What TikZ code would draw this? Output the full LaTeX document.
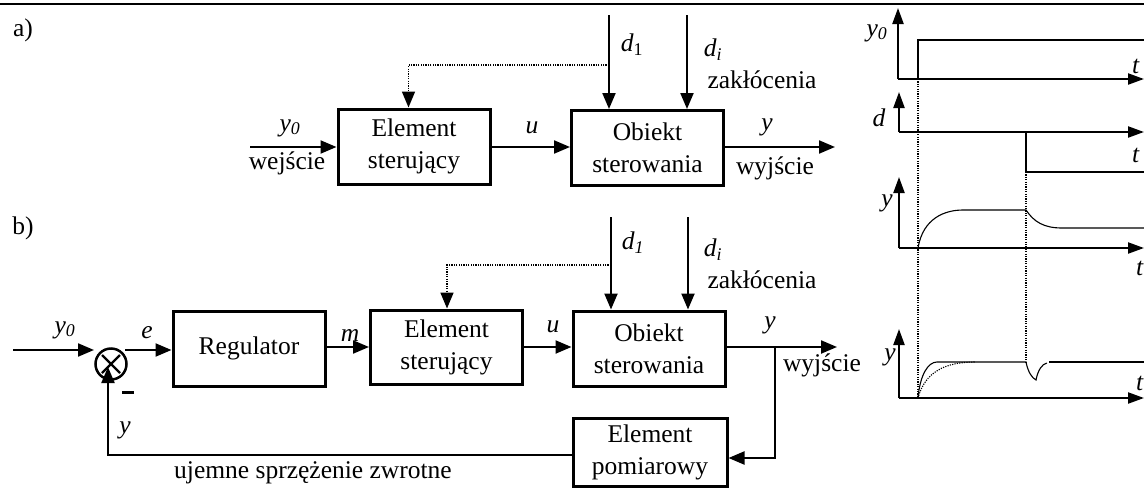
\documentclass[tikz,border=0pt]{standalone}
\usepackage{fontspec}
\setmainfont{Liberation Serif}
\usetikzlibrary{arrows.meta,calc}
\newcommand{\vy}{\textit{y}\textsubscript{\textit{0}}}
\begin{document}
\begin{tikzpicture}[x=1pt,y=-1pt,
  font=\fontsize{25.5}{32}\selectfont,
  blk/.style={draw,line width=3pt,minimum width=152pt,minimum height=75pt,align=center,inner sep=0pt},
  arr/.style={line width=2.2pt,-{Triangle[length=16pt,width=13pt]}},
  ln/.style={line width=2.2pt},
  dots/.style={line width=1.6pt,dash pattern=on 1.2pt off 1.2pt},
  axisarr/.style={line width=2.2pt,-{Triangle[length=16pt,width=11pt]}},
  fine/.style={line width=1.1pt},
  fdots/.style={line width=1.1pt,dash pattern=on 1.2pt off 1.2pt},
  lbl/.style={inner sep=0pt},
]
\useasboundingbox (0,0) rectangle (1144,488);
\draw[ln] (0,4) -- (1144,4);

% ---------- a) ----------
\node[lbl] (la) at (23,30) {a)};
\node[blk] (ESa) at (414,146.5) {Element\\sterujący};
\node[blk] (OBa) at (647.5,148) {Obiekt\\sterowania};
\coordinate (ina) at (250,147);
\coordinate (outa) at (835,147);
\coordinate (d1a) at (609,15);
\coordinate (dia) at (687,15);
\coordinate (tapa) at (609,65);
\draw[arr] (ina) -- (ina -| ESa.west);
\draw[arr] (ESa.east |- ina) -- (OBa.west |- ina);
\draw[arr] (OBa.east |- outa) -- (outa);
\draw[arr] (d1a) -- (d1a |- OBa.north);
\draw[arr] (dia) -- (dia |- OBa.north);
\draw[dots,-{Triangle[length=16pt,width=13pt]}] (tapa) -| ($(ESa.north west)+(72,0)$);
\node[lbl] (y0a) at (290,128) {\vy};
\node[lbl] (wea) at (287,163) {wejście};
\node[lbl] (ua) at (532,128) {\textit{u}};
\node[lbl] (ya) at (767,127) {\textit{y}};
\node[lbl] (wya) at (775,168) {wyjście};
\node[lbl] (d1la) at (632,45) {\textit{d}\textsubscript{1}};
\node[lbl] (dila) at (713,50) {\textit{d}\textsubscript{\textit{i}}};
\node[lbl] (za) at (762,80) {zakłócenia};

% ---------- b) ----------
\node[lbl] (lb) at (23,228) {b)};
\node[draw,circle,line width=2.5pt,minimum size=31pt,inner sep=0pt] (sum) at (111,364) {};
\draw[line width=2.2pt] ($(sum.center)+(-9,-9)$) -- ($(sum.center)+(9,9)$);
\draw[line width=2.2pt] ($(sum.center)+(-9,9)$) -- ($(sum.center)+(9,-9)$);
\node[blk] (Reg) at (249,348.5) {Regulator};
\node[blk,minimum height=74pt] (ESb) at (446.5,347) {Element\\sterujący};
\node[blk] (OBb) at (649,348.5) {Obiekt\\sterowania};
\node[blk,minimum height=68pt,minimum width=154pt] (EP) at (650,452) {Element\\pomiarowy};
\coordinate (inb) at (13,350);
\coordinate (sin) at (94,350);
\coordinate (sout) at (125,350);
\coordinate (outb) at (837,347);
\coordinate (br) at (775,347);
\coordinate (br2) at (775,458);
\coordinate (fb) at (108,455);
\coordinate (fbt) at (108,367);
\coordinate (d1b) at (611,217);
\coordinate (dib) at (688,217);
\coordinate (tapb) at (611,265);
\draw[arr] (inb) -- (sin);
\draw[arr] (sout) -- (sout -| Reg.west);
\draw[arr] (Reg.east |- 0,347) -- (ESb.west |- 0,347);
\draw[arr] (ESb.east |- 0,347) -- (OBb.west |- 0,347);
\draw[arr] (OBb.east |- outb) -- (outb);
\draw[arr] (br) -- (br2) -- (EP.east |- br2);
\draw[arr] (EP.west |- fb) -- (fb) -- (fbt);
\draw[arr] (d1b) -- (d1b |- OBb.north);
\draw[arr] (dib) -- (dib |- OBb.north);
\draw[dots,-{Triangle[length=16pt,width=13pt]}] (tapb) -| ($(ESb.north west)+(78,0)$);
\fill (122,390.5) rectangle (134,393.5);
\node[lbl] (y0b) at (65,330) {\vy};
\node[lbl] (eb) at (147,333) {\textit{e}};
\node[lbl] (mb) at (350,335) {\textit{m}};
\node[lbl] (ub) at (553,327) {\textit{u}};
\node[lbl] (yb) at (770,325) {\textit{y}};
\node[lbl] (wyb) at (822,365) {wyjście};
\node[lbl] (yfb) at (125,430) {\textit{y}};
\node[lbl] (uj) at (313,473) {ujemne sprzężenie zwrotne};
\node[lbl] (d1lb) at (633,243) {\textit{d}\textsubscript{\textit{1}}};
\node[lbl] (dilb) at (713,250) {\textit{d}\textsubscript{\textit{i}}};
\node[lbl] (zb) at (762,280) {zakłócenia};

% ---------- plots ----------
% plot 1
\draw[axisarr] (898,79) -- (898,8);
\draw[axisarr] (898,79) -- (1144,79);
\draw[fine] (918,79) -- (918,40) -- (1144,40);
\node[lbl] (py0) at (877,33) {\vy};
\node[lbl] (pt1) at (1136,66) {\textit{t}};
% plot 2
\draw[axisarr] (899,132) -- (899,92);
\draw[axisarr] (899,132) -- (1144,132);
\draw[fine] (1026,132) -- (1026,172) -- (1144,172);
\node[lbl] (pd) at (879,118) {\textit{d}};
\node[lbl] (pt2) at (1136,155) {\textit{t}};
% plot 3
\draw[axisarr] (899,248) -- (899,177);
\draw[axisarr] (899,248) -- (1144,248);
\draw[fine] (918,248) .. controls (923,218) and (945,210) .. (963,210) -- (1026,210)
  .. controls (1034,222) and (1044,228) .. (1062,228) -- (1144,228);
\node[lbl] (py3) at (887,203) {\textit{y}};
\node[lbl] (pt3) at (1140,268) {\textit{t}};
% plot 4
\draw[axisarr] (899,398) -- (899,329);
\draw[axisarr] (899,398) -- (1144,398);
\draw[fine] (918,398) .. controls (920,375) and (928,362) .. (937,362) -- (1026,362)
  .. controls (1028,372) and (1032,378) .. (1036,380)
  .. controls (1038,370) and (1042,364) .. (1047,363);
\draw[fine] (1049,362) -- (1144,362);
\draw[fdots] (918,398) .. controls (925,372) and (945,362) .. (975,362);
\node[lbl] (py4) at (890,357) {\textit{y}};
\node[lbl] (pt4) at (1140,383) {\textit{t}};
% dotted guides
\draw[fdots] (918,79) -- (918,398);
\draw[fdots] (1026,172) -- (1026,362);
\end{tikzpicture}
\end{document}
